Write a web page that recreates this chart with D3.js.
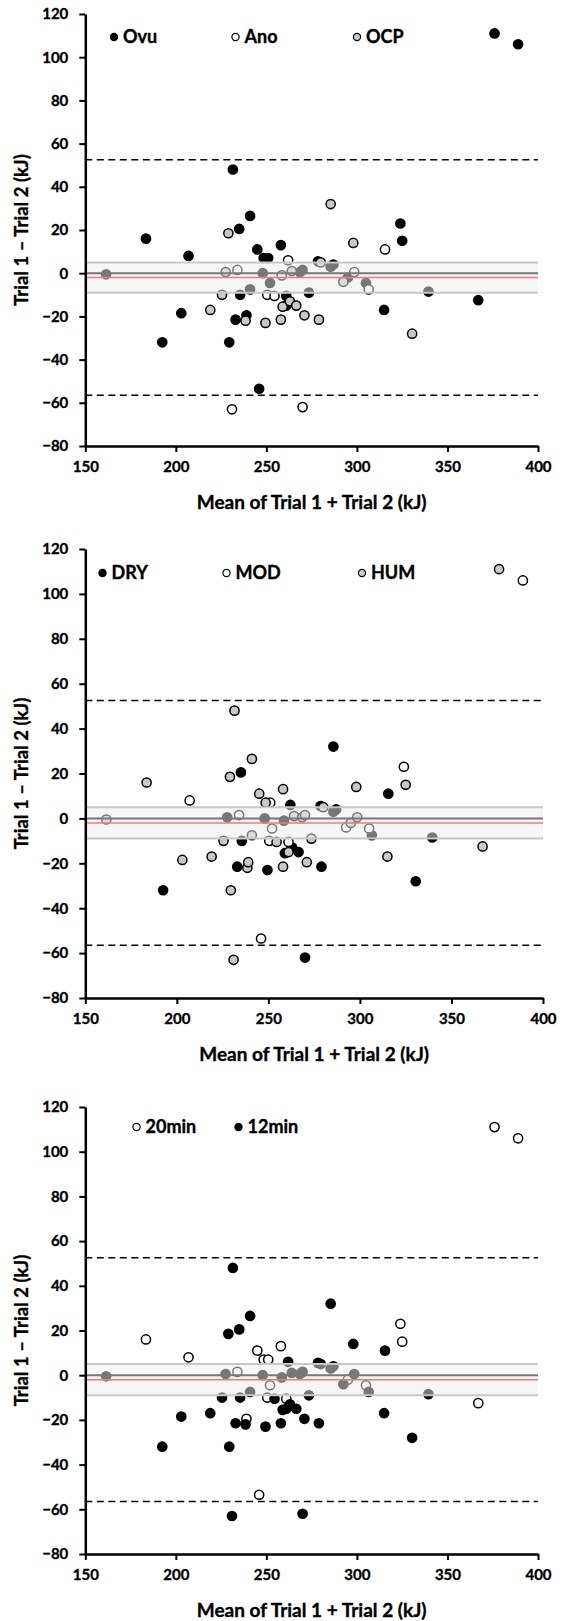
<!DOCTYPE html>
<html>
<head>
<meta charset="utf-8">
<script src="https://cdn.jsdelivr.net/npm/d3@7"></script>
<style>
  body { margin: 0; background: #fff; }
  text { font-family: Lato, "Open Sans", sans-serif; font-weight: bold; fill: #000;
         stroke: #000; stroke-width: 0.35px; }
</style>
</head>
<body>
<svg id="chart" width="564" height="1621"></svg>
<script>
// mean of the two trials (kJ) and trial 1 - trial 2 (kJ), same participants in all panels
const meanKJ = [161.5, 183.5, 192.5, 203, 207, 219, 225.5, 227.5, 229, 229.5,
  231, 231.5, 233, 234, 235, 235.5, 238.5, 239, 241, 241,
  245, 246, 248, 248.5, 249.5, 250.5, 251, 252, 254.5, 258,
  258, 258.5, 259, 261, 261, 262, 263, 264, 266.5, 268.5,
  270, 270, 271, 273.5, 278.5, 279, 280, 285.5, 285.5, 287,
  292.5, 295, 298, 298.5, 305, 306.5, 315, 315.5, 324, 325,
  330.5, 339.5, 367, 376, 389];
const diffKJ = [-0.5, 16, -32, -18.5, 8, -17, -10, 0.5, 18.5, -32,
  -63, 48, -21.5, 1.5, 20.5, -10, -22, -19.5, 26.5, -7.5,
  11, -53.5, 0, 7, -23, -10, 7, -4.5, -10.5, 13,
  -21.5, -1, -15.5, -15, -10.5, 6, -13, 1, -15, 0.5,
  1.5, -62, -19.5, -9, 5.5, -21.5, 5, 32, 3, 4,
  -4, -2, 14, 0.5, -4.5, -7.5, -17, 11, 23, 15,
  -28, -8.5, -12.5, 111, 106];

// group of each point, one list per panel
const phaseGroup = ["Ovu","Ovu","Ovu","Ovu","Ovu","OCP","OCP","OCP","OCP","Ovu",
  "Ano","Ovu","Ovu","Ano","Ovu","Ovu","OCP","Ovu","Ovu","Ovu",
  "Ovu","Ovu","Ovu","Ovu","OCP","Ano","Ovu","Ovu","Ano","Ovu",
  "OCP","Ano","OCP","Ovu","Ovu","Ano","OCP","OCP","OCP","Ovu",
  "Ovu","Ano","OCP","Ovu","Ovu","OCP","OCP","OCP","Ovu","Ovu",
  "OCP","Ovu","OCP","Ano","Ovu","Ano","Ovu","Ano","Ovu","Ovu",
  "OCP","Ovu","Ovu","Ovu","Ovu"];
const climateGroup = ["HUM","HUM","DRY","HUM","MOD","HUM","HUM","DRY","HUM","HUM",
  "HUM","HUM","DRY","MOD","DRY","DRY","HUM","HUM","HUM","HUM",
  "HUM","MOD","DRY","HUM","DRY","MOD","MOD","MOD","HUM","HUM",
  "HUM","DRY","DRY","HUM","MOD","DRY","DRY","HUM","DRY","HUM",
  "HUM","DRY","HUM","HUM","DRY","DRY","HUM","DRY","DRY","DRY",
  "MOD","HUM","HUM","HUM","MOD","DRY","HUM","DRY","MOD","HUM",
  "DRY","DRY","HUM","HUM","MOD"];
const restGroup = ["12min","20min","12min","12min","20min","12min","12min","12min","12min","12min",
  "12min","12min","12min","20min","12min","12min","12min","20min","12min","12min",
  "20min","20min","12min","20min","12min","20min","20min","20min","12min","20min",
  "12min","12min","12min","12min","20min","12min","12min","12min","12min","12min",
  "12min","12min","12min","12min","12min","12min","12min","12min","12min","12min",
  "12min","20min","12min","12min","20min","12min","12min","12min","20min","20min",
  "12min","12min","20min","20min","20min"];

// Bland-Altman reference lines
const meanBias = -2;
const limitsOfAgreement = [52.5, -56.5];
const equivalenceBand = [5, -9];

const xTicks = [150, 200, 250, 300, 350, 400];
const yTicks = [-80, -60, -40, -20, 0, 20, 40, 60, 80, 100, 120];

const fills = { Ovu: "#000", Ano: "#fff", OCP: "#c8c8c8",
                DRY: "#000", MOD: "#fff", HUM: "#c8c8c8",
                "20min": "#fff", "12min": "#000" };

const panels = [
  { top: 14, bottom: 446, right: 538, groups: phaseGroup, order: ["Ovu","Ano","OCP"],
    legend: [{ key: "Ovu", x: 114 }, { key: "Ano", x: 235.5 }, { key: "OCP", x: 357 }], legendY: 37 },
  { top: 549, bottom: 998, right: 543, groups: climateGroup, order: ["DRY","MOD","HUM"],
    legend: [{ key: "DRY", x: 102.5 }, { key: "MOD", x: 226.5 }, { key: "HUM", x: 362 }], legendY: 573 },
  { top: 1107, bottom: 1554, right: 538, groups: restGroup, order: ["20min","12min"],
    legend: [{ key: "20min", x: 136.5 }, { key: "12min", x: 238.5 }], legendY: 1127 }
];

const left = 85.3;
const svg = d3.select("#chart");

panels.forEach(p => {
  const x = d3.scaleLinear().domain([150, 400]).range([left, p.right]);
  const y = d3.scaleLinear().domain([-80, 120]).range([p.bottom, p.top]);
  const g = svg.append("g");

  // points, one series after the other
  const pts = meanKJ.map((m, i) => ({ m, d: diffKJ[i], k: p.groups[i] }));
  p.order.forEach(key => {
    g.selectAll(null)
      .data(pts.filter(d => d.k === key))
      .enter().append("circle")
        .attr("cx", d => x(d.m))
        .attr("cy", d => y(d.d))
        .attr("r", 4.6)
        .attr("fill", fills[key])
        .attr("stroke", "#000")
        .attr("stroke-width", 1.5);
  });

  // zero and bias lines, then the translucent band over them
  g.append("line")
    .attr("x1", left).attr("x2", p.right)
    .attr("y1", y(0)).attr("y2", y(0))
    .attr("stroke", "#000").attr("stroke-width", 2);
  g.append("line")
    .attr("x1", left).attr("x2", p.right)
    .attr("y1", y(meanBias)).attr("y2", y(meanBias))
    .attr("stroke", "#ff0000").attr("stroke-width", 1.5);
  g.append("rect")
    .attr("x", left).attr("width", p.right - left)
    .attr("y", y(equivalenceBand[0]))
    .attr("height", y(equivalenceBand[1]) - y(equivalenceBand[0]))
    .attr("fill", "#eeeeee").attr("fill-opacity", 0.5);
  g.selectAll(null)
    .data(equivalenceBand)
    .enter().append("line")
      .attr("x1", left).attr("x2", p.right)
      .attr("y1", d => y(d)).attr("y2", d => y(d))
      .attr("stroke", "#c8c8c8").attr("stroke-width", 2);

  // limits of agreement
  g.selectAll(null)
    .data(limitsOfAgreement)
    .enter().append("line")
      .attr("x1", left).attr("x2", p.right)
      .attr("y1", d => y(d)).attr("y2", d => y(d))
      .attr("stroke", "#000").attr("stroke-width", 1.5)
      .attr("stroke-dasharray", "7,4.5");

  // axes
  const yAxis = g.append("g")
    .attr("transform", `translate(${left},0)`)
    .call(d3.axisLeft(y).tickValues(yTicks).tickSize(6).tickSizeOuter(0).tickPadding(11));
  const xAxis = g.append("g")
    .attr("transform", `translate(0,${p.bottom})`)
    .call(d3.axisBottom(x).tickValues(xTicks).tickSize(6).tickSizeOuter(0));
  [yAxis, xAxis].forEach(a => {
    a.select(".domain").attr("stroke-width", 2.5);
    a.selectAll(".tick line").attr("stroke-width", 2);
    a.selectAll("text").attr("font-size", 15).attr("font-family", null);
  });
  xAxis.selectAll("text").attr("y", 21).attr("dy", "0.35em");

  // axis titles
  g.append("text")
    .attr("x", (left + p.right) / 2)
    .attr("y", p.bottom + 56)
    .attr("dy", "0.35em")
    .attr("text-anchor", "middle")
    .attr("font-size", 19)
    .text("Mean of Trial 1 + Trial 2 (kJ)");
  g.append("text")
    .attr("transform", `translate(22,${(p.top + p.bottom) / 2}) rotate(-90)`)
    .attr("dy", "0.35em")
    .attr("text-anchor", "middle")
    .attr("font-size", 18.5)
    .text("Trial 1 \u2013 Trial 2 (kJ)");

  // legend
  const lg = g.selectAll(null)
    .data(p.legend)
    .enter().append("g")
      .attr("transform", d => `translate(${d.x},${p.legendY})`);
  lg.append("circle")
    .attr("r", 3.6)
    .attr("fill", d => fills[d.key])
    .attr("stroke", "#000")
    .attr("stroke-width", 1.2);
  lg.append("text")
    .attr("x", 9)
    .attr("dy", "0.36em")
    .attr("font-size", 18)
    .text(d => d.key);
});
</script>
</body>
</html>
